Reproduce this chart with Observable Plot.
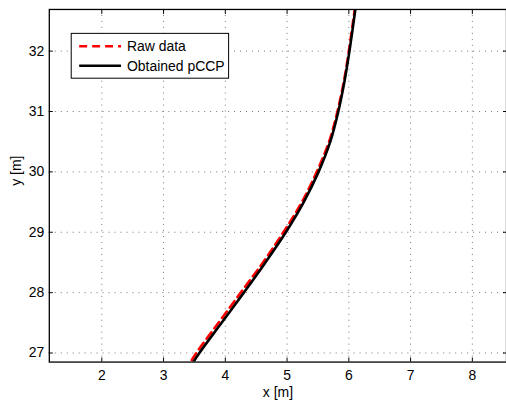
<!DOCTYPE html>
<html>
<head>
<meta charset="utf-8">
<script src="https://cdn.jsdelivr.net/npm/d3@7"></script>
<script src="https://cdn.jsdelivr.net/npm/@observablehq/plot@0.6"></script>
<style>
  html, body { margin: 0; padding: 0; background: #fff; overflow: hidden; }
  #chart { position: relative; width: 506px; height: 408px; overflow: hidden; }
  svg { font-family: "Liberation Sans", Arial, Helvetica, sans-serif; }
</style>
</head>
<body>
<div id="chart"></div>
<script>
// Data
const yValues   = [26.7, 27.0, 27.5, 28.0, 28.5, 29.0, 29.5, 30.0, 30.5, 31.0, 31.5, 32.0, 32.5, 32.8];
const rawX      = [3.35, 3.53, 3.89, 4.25, 4.61, 4.94, 5.24, 5.48, 5.68, 5.815, 5.92, 6.00, 6.07, 6.11];
const pccpX     = [3.39, 3.58, 3.94, 4.30, 4.65, 4.98, 5.27, 5.51, 5.70, 5.83, 5.93, 6.01, 6.08, 6.12];
const xTicks    = [2, 3, 4, 5, 6, 7, 8];
const yTicks    = [27, 28, 29, 30, 31, 32];
const seriesNames = ["Raw data", "Obtained pCCP"];

const raw  = yValues.map((y, i) => ({x: rawX[i], y}));
const pccp = yValues.map((y, i) => ({x: pccpX[i], y}));

const font = 14;
const fmt = d3.format("d");
const plot = Plot.plot({
  width: 508,
  height: 408,
  marginLeft: 49,
  marginRight: 0,
  marginTop: 9,
  marginBottom: 45,
  style: {fontSize: font + "px", fontFamily: '"Liberation Sans", Arial, sans-serif', color: "#000", background: "#fff"},
  x: {domain: [1.15, 8.553], label: null},
  y: {domain: [26.85, 32.69], label: null},
  marks: [
    Plot.gridX(xTicks, {stroke: "#000", strokeOpacity: 0.55, strokeDasharray: "1,5"}),
    Plot.gridY(yTicks, {stroke: "#000", strokeOpacity: 0.55, strokeDasharray: "1,5"}),
    Plot.line(raw, {x: "x", y: "y", stroke: "#ff0000", strokeWidth: 2.6, strokeDasharray: "8,5", curve: "catmull-rom", clip: true}),
    Plot.line(pccp, {x: "x", y: "y", stroke: "#000", strokeWidth: 2.6, curve: "catmull-rom", clip: true}),
    Plot.axisX(xTicks, {anchor: "bottom", tickSize: 0, tickPadding: 8, label: null, fontSize: font, tickFormat: fmt}),
    Plot.axisY(yTicks, {anchor: "left", tickSize: 0, tickPadding: 5, label: null, fontSize: font, tickFormat: fmt}),
    Plot.axisX(xTicks, {anchor: "bottom", tickSize: -4, tickFormat: () => "", label: null}),
    Plot.axisX(xTicks, {anchor: "top", tickSize: -4, tickFormat: () => "", label: null}),
    Plot.axisY(yTicks, {anchor: "left", tickSize: -4, tickFormat: () => "", label: null}),
    Plot.axisY(yTicks, {anchor: "right", tickSize: -4, tickFormat: () => "", label: null}),
    Plot.frame({stroke: "#000", strokeWidth: 1.3}),
    Plot.text(["x [m]"], {text: d => d, frameAnchor: "bottom", lineAnchor: "middle", dy: 31, fontSize: font, fill: "#000"}),
    Plot.text(["y [m]"], {text: d => d, frameAnchor: "left", lineAnchor: "middle", dx: -33, rotate: -90, fontSize: font, fill: "#000"})
  ]
});
document.getElementById("chart").appendChild(plot);

// Legend box inside the plot area (MATLAB style)
const svg = d3.select(plot);
const lg = svg.append("g").attr("transform", "translate(71.5,33.5)").attr("text-anchor", "start");
lg.append("rect").attr("width", 158).attr("height", 45).attr("fill", "#fff").attr("stroke", "#000").attr("stroke-width", 1);
const styles = [
  {stroke: "#ff0000", dash: "8,5"},
  {stroke: "#000", dash: null}
];
seriesNames.forEach((name, i) => {
  const yy = 13 + i * 19.5;
  lg.append("line").attr("x1", 8).attr("x2", 50).attr("y1", yy).attr("y2", yy)
    .attr("stroke", styles[i].stroke).attr("stroke-width", 2.6)
    .attr("stroke-dasharray", styles[i].dash);
  lg.append("text").attr("x", 56).attr("y", yy).attr("dy", "0.35em")
    .attr("text-anchor", "start")
    .attr("font-size", font + "px").attr("fill", "#000").text(name);
});
</script>
</body>
</html>
